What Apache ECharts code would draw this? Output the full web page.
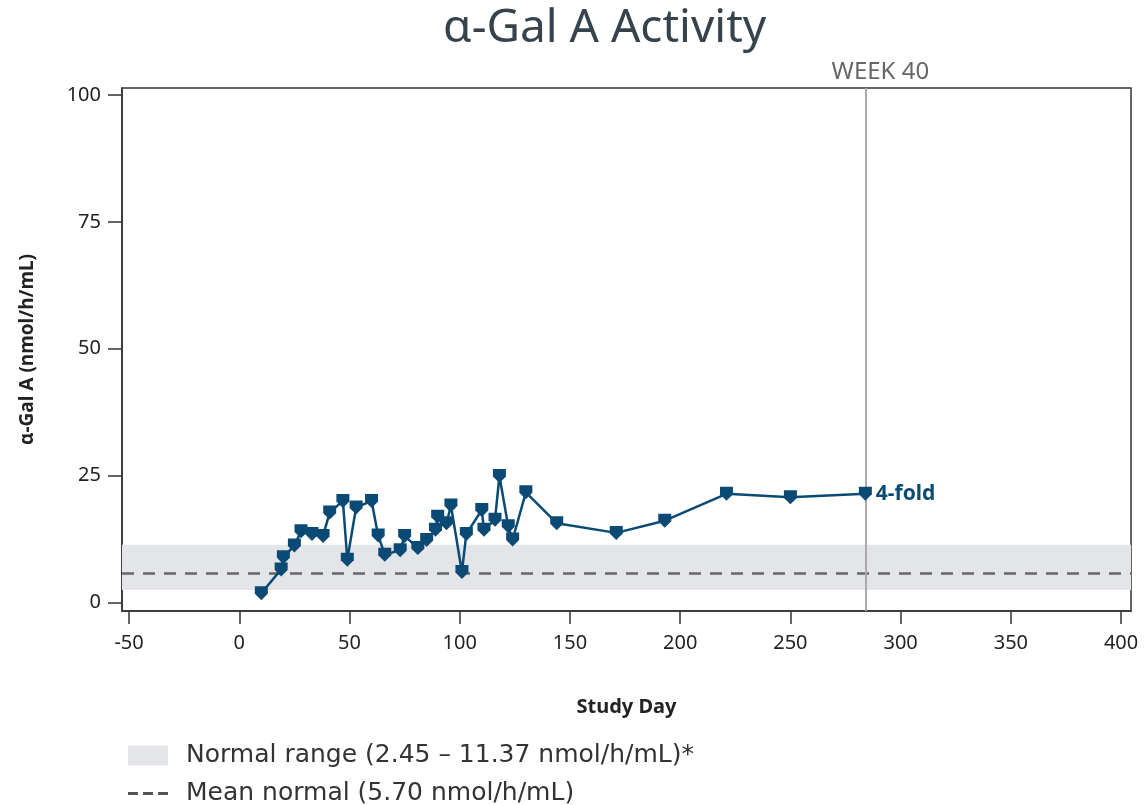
<!DOCTYPE html>
<html>
<head>
<meta charset="utf-8">
<script src="https://cdn.jsdelivr.net/npm/echarts@6/dist/echarts.min.js"></script>
<style>
  html, body {margin: 0; padding: 0; background: #fff;}
  #chart {width: 1145px; height: 805px;}
</style>
</head>
<body>
<div id="chart"></div>
<script>
// study day of each sample and measured activity (nmol/h/mL)
var studyDays = [10, 19, 20, 25, 28, 33, 38, 41, 47, 49, 53, 60, 63, 66, 73, 75, 81, 85, 89, 90,
  94, 96, 101, 103, 110, 111, 116, 118, 122, 124, 130, 144, 171, 193, 221, 250, 284];
var activity = [1.8, 6.5, 8.9, 11.2, 14.0, 13.5, 13.1, 17.7, 20.0, 8.4, 18.7, 20.0, 13.2, 9.4, 10.3, 13.1, 10.7, 12.3, 14.3, 16.9,
  15.6, 19.1, 6.0, 13.5, 18.2, 14.3, 16.3, 24.9, 15.0, 12.4, 21.7, 15.6, 13.7, 16.1, 21.4, 20.7, 21.4];

var xTicks = [-50, 0, 50, 100, 150, 200, 250, 300, 350, 400];
var yTicks = [0, 25, 50, 75, 100];

var normalRange = [2.45, 11.37];
var meanNormal = 5.70;
var week40Day = 284;

var rangeName = 'Normal range (2.45 – 11.37 nmol/h/mL)*';
var meanName = 'Mean normal (5.70 nmol/h/mL)';

var blue = '#0b4a74';
var grey = '#e3e5e8';
var font = 'Noto Sans';
// home-down shaped marker
var shield = 'path://M0,0 L12,0 L12,7 L6,13 L0,7 Z';
// three dashes for the legend
var dashes = 'path://M0,0 L10,0 L10,3 L0,3 Z M15,0 L25,0 L25,3 L15,3 Z M30,0 L40,0 L40,3 L30,3 Z';

var chart = echarts.init(document.getElementById('chart'));

var points = studyDays.map(function (d, i) { return [d, activity[i]]; });

var legendText = {fontSize: 25, color: '#333', fontFamily: 'DejaVu Sans', padding: [0, 0, 0, 13]};

var option = {
  animation: false,
  textStyle: {fontFamily: font},
  title: {
    text: 'α-Gal A Activity',
    left: 438,
    top: 1,
    textStyle: {fontSize: 46, fontWeight: 'normal', color: '#36434d', fontFamily: font}
  },
  grid: {
    left: 122, right: 14, top: 88, bottom: 194,
    show: true, borderColor: '#333', borderWidth: 1.5
  },
  legend: [
    {
      left: 123, top: 738,
      itemWidth: 40, itemHeight: 20, itemGap: 22,
      textStyle: legendText,
      data: [{name: rangeName, icon: 'rect'}]
    },
    {
      left: 123, top: 776,
      itemWidth: 40, itemHeight: 3, itemGap: 22,
      textStyle: legendText,
      data: [{name: meanName, icon: dashes}]
    }
  ],
  xAxis: {
    type: 'value',
    min: -53.2,
    max: 404.5,
    name: 'Study Day',
    nameLocation: 'middle',
    nameGap: 86,
    nameTextStyle: {fontSize: 20, fontWeight: 'bold', color: '#222'},
    axisLine: {show: true, onZero: false, lineStyle: {color: '#333', width: 1.5}},
    axisTick: {show: true, customValues: xTicks, length: 13, lineStyle: {color: '#333', width: 1.5}},
    axisLabel: {customValues: xTicks, fontSize: 20, color: '#222', margin: 22},
    splitLine: {show: false}
  },
  yAxis: {
    type: 'value',
    min: -1.7,
    max: 101.4,
    name: 'α-Gal A (nmol/h/mL)',
    nameLocation: 'middle',
    nameRotate: 90,
    nameGap: 85,
    nameTextStyle: {fontSize: 19, fontWeight: 'bold', color: '#222'},
    axisLine: {show: true, onZero: false, lineStyle: {color: '#333', width: 1.5}},
    axisTick: {show: true, customValues: yTicks, length: 14, lineStyle: {color: '#333', width: 1.5}},
    axisLabel: {customValues: yTicks, fontSize: 20, color: '#222', margin: 21},
    splitLine: {show: false}
  },
  series: [
    {
      name: rangeName,
      type: 'line',
      data: [],
      itemStyle: {color: grey},
      lineStyle: {color: grey},
      markArea: {
        silent: true,
        itemStyle: {color: grey},
        data: [[{yAxis: normalRange[0]}, {yAxis: normalRange[1]}]]
      }
    },
    {
      name: meanName,
      type: 'line',
      data: [],
      symbol: 'none',
      itemStyle: {color: '#555'},
      lineStyle: {color: '#666', width: 2.5, type: [12, 9]},
      markLine: {
        silent: true,
        symbol: ['none', 'none'],
        label: {show: false},
        lineStyle: {color: '#666', width: 2.5, type: [12, 9]},
        data: [{yAxis: meanNormal}]
      }
    },
    {
      name: 'activity',
      type: 'line',
      data: points,
      symbol: shield,
      symbolSize: [13, 14],
      itemStyle: {color: blue},
      lineStyle: {color: blue, width: 2.5},
      z: 5,
      label: {
        show: true,
        position: 'right',
        distance: 4,
        fontSize: 21,
        fontWeight: 'bold',
        color: blue,
        formatter: function (p) { return p.dataIndex === studyDays.length - 1 ? '4-fold' : ''; }
      },
      markLine: {
        silent: true,
        symbol: ['none', 'none'],
        lineStyle: {color: '#aaa', width: 2, type: 'solid'},
        label: {
          show: true,
          position: 'end',
          formatter: 'WEEK 40',
          fontSize: 24,
          color: '#666',
          distance: 4,
          padding: [0, 0, 0, 30]
        },
        data: [{xAxis: week40Day}]
      }
    }
  ]
};

chart.setOption(option);
</script>
</body>
</html>
